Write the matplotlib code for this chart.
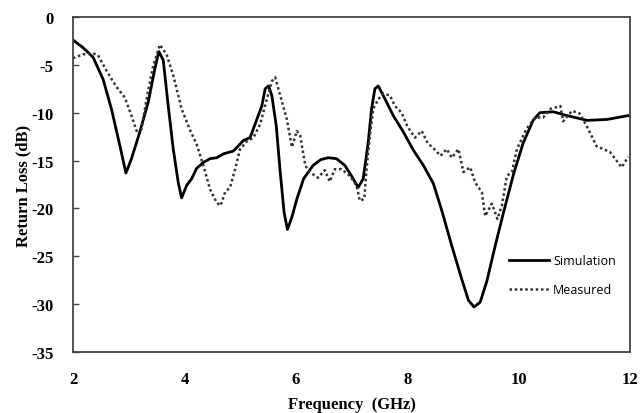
import numpy as np
import matplotlib
matplotlib.use("Agg")
import matplotlib.pyplot as plt

# 仿真曲线 (solid)
sim_f = [2.0, 2.18, 2.36, 2.54, 2.69, 2.84, 2.95, 3.05, 3.2, 3.35, 3.47, 3.54, 3.62, 3.71,
         3.8, 3.89, 3.95, 4.04, 4.13, 4.22, 4.34, 4.46, 4.58, 4.7, 4.88, 5.06, 5.18, 5.3,
         5.39, 5.45, 5.51, 5.57, 5.65, 5.72, 5.79, 5.85, 5.93, 6.02, 6.14, 6.31, 6.45, 6.58,
         6.73, 6.88, 7.0, 7.12, 7.21, 7.3, 7.36, 7.42, 7.48, 7.57, 7.75, 7.93, 8.11, 8.29,
         8.47, 8.62, 8.8, 8.98, 9.1, 9.2, 9.31, 9.43, 9.58, 9.73, 9.91, 10.08, 10.26, 10.38,
         10.62, 10.87, 11.23, 11.59, 11.97]
sim_db = [-2.4, -3.2, -4.2, -6.5, -9.6, -13.4, -16.3, -14.8, -12.0, -8.9, -5.4, -3.6, -4.5,
          -9.3, -13.8, -17.3, -18.9, -17.6, -16.9, -15.8, -15.2, -14.8, -14.7, -14.3, -14.0,
          -12.9, -12.6, -10.7, -9.3, -7.5, -7.2, -8.2, -11.4, -16.2, -20.4, -22.2, -20.9,
          -19.0, -16.9, -15.5, -14.9, -14.7, -14.8, -15.5, -16.6, -17.8, -16.9, -13.1, -9.6,
          -7.5, -7.2, -8.2, -10.3, -12.0, -13.9, -15.5, -17.4, -20.2, -23.9, -27.4, -29.6,
          -30.3, -29.8, -27.6, -23.9, -20.4, -16.4, -13.2, -10.8, -10.0, -9.9, -10.3, -10.8,
          -10.7, -10.3]

# 实测曲线 (dotted)
mea_f = [2.0, 2.18, 2.36, 2.45, 2.6, 2.78, 2.93, 3.05, 3.14, 3.23, 3.32, 3.44, 3.56, 3.68,
         3.8, 3.95, 4.1, 4.22, 4.34, 4.46, 4.58, 4.65, 4.73, 4.82, 4.91, 5.0, 5.12, 5.24,
         5.36, 5.48, 5.57, 5.63, 5.72, 5.84, 5.93, 6.02, 6.08, 6.17, 6.25, 6.4, 6.52, 6.61,
         6.7, 6.82, 6.97, 7.09, 7.15, 7.23, 7.27, 7.33, 7.39, 7.48, 7.57, 7.69, 7.78, 7.9,
         8.0, 8.14, 8.26, 8.37, 8.47, 8.6, 8.71, 8.8, 8.92, 9.01, 9.13, 9.22, 9.34, 9.4,
         9.52, 9.62, 9.7, 9.79, 9.88, 9.97, 10.14, 10.3, 10.44, 10.57, 10.75, 10.8, 10.96,
         11.1, 11.25, 11.4, 11.64, 11.85, 11.97]
mea_db = [-4.3, -3.9, -3.8, -4.0, -5.6, -7.3, -8.4, -10.3, -11.9, -11.7, -8.6, -5.1, -2.9,
          -3.9, -6.1, -9.6, -11.8, -13.3, -15.5, -18.0, -19.4, -19.7, -18.3, -17.8, -15.9,
          -13.8, -13.0, -12.6, -11.2, -8.6, -6.7, -6.3, -8.2, -10.7, -13.6, -11.9, -12.4,
          -15.5, -16.2, -16.8, -16.0, -17.2, -15.9, -15.9, -16.6, -17.6, -19.2, -19.0, -15.9,
          -12.4, -9.6, -8.6, -8.0, -8.2, -9.3, -10.0, -11.4, -12.6, -11.9, -13.2, -13.7,
          -14.5, -13.8, -14.7, -13.8, -16.2, -15.7, -17.3, -18.3, -20.8, -19.5, -21.1, -19.7,
          -16.6, -16.2, -13.8, -11.7, -10.5, -10.5, -9.6, -9.3, -10.9, -9.8, -10.1, -11.7,
          -13.5, -14.1, -15.7, -14.6]

fig = plt.figure(figsize=(6.42, 4.14), dpi=100)
ax = fig.add_axes([0.1137, 0.1473, 0.8676, 0.8092])

ax.plot(sim_f, sim_db, color="black", lw=2.0, label="Simulation")
ax.plot(mea_f, mea_db, color="#333333", lw=1.8, linestyle=(0, (1, 1.1)), label="Measured")

ax.set_xlim(2, 12)
ax.set_ylim(-35, 0)
ax.set_xticks([2, 4, 6, 8, 10, 12])
ax.set_yticks(np.arange(-35, 1, 5))

serif = {"family": "Liberation Serif", "weight": "bold", "size": 12}
ax.set_xticklabels([str(v) for v in [2, 4, 6, 8, 10, 12]], fontdict=serif)
ax.set_yticklabels([str(v) for v in range(-35, 1, 5)], fontdict=serif)
ax.tick_params(axis="x", length=0, pad=14)
ax.tick_params(axis="y", direction="in", length=4, width=1, pad=14, color="#444444")
ax.set_xlabel("Frequency  (GHz)", fontdict=serif, labelpad=6)
ax.set_ylabel("Return Loss (dB)", fontdict=serif, labelpad=0)

for s in ax.spines.values():
    s.set_color("#444444")
    s.set_linewidth(1.3)

leg = ax.legend(loc="lower right", bbox_to_anchor=(0.995, 0.133), frameon=False,
                prop={"family": "Open Sans", "size": 9}, handlelength=3.2, handletextpad=0.3,
                labelspacing=1.3)

fig.savefig("out.png", dpi=100)
